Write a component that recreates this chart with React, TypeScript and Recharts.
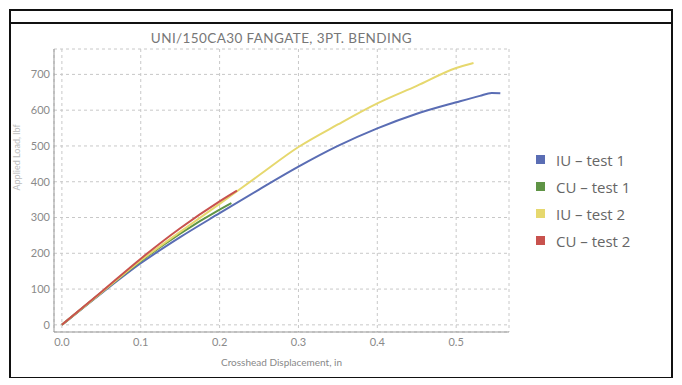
import {
  LineChart,
  Line,
  XAxis,
  YAxis,
  CartesianGrid,
  Legend,
} from "recharts";

// crosshead displacement (in) / load readings per test
const iu1X = [0, 0.05, 0.1, 0.15, 0.2, 0.25, 0.3, 0.35, 0.4, 0.45, 0.5, 0.53, 0.545, 0.556];
const iu1Y = [0, 88, 172, 245, 312, 378, 442, 500, 549, 590, 622, 640, 648, 647];

const cu1X = [0, 0.05, 0.1, 0.15, 0.2, 0.215];
const cu1Y = [0, 90, 178, 255, 322, 340];

const iu2X = [0, 0.05, 0.1, 0.15, 0.2, 0.25, 0.3, 0.35, 0.4, 0.45, 0.5, 0.522];
const iu2Y = [0, 90, 180, 260, 338, 418, 497, 560, 619, 668, 718, 732];

const cu2X = [0, 0.05, 0.1, 0.15, 0.2, 0.222];
const cu2Y = [0, 92, 185, 270, 345, 375];

const xTicks = [0, 0.1, 0.2, 0.3, 0.4, 0.5];
const yTicks = [0, 100, 200, 300, 400, 500, 600, 700];

const zip = (xs: number[], ys: number[]) => xs.map((x, i) => ({ x, y: ys[i] }));

const series = [
  { name: "IU – test 1", color: "#5a6db4", data: zip(iu1X, iu1Y) },
  { name: "CU – test 1", color: "#5f9445", data: zip(cu1X, cu1Y) },
  { name: "IU – test 2", color: "#e6d86e", data: zip(iu2X, iu2Y) },
  { name: "CU – test 2", color: "#c8524e", data: zip(cu2X, cu2Y) },
];

const font = "Lato, 'DejaVu Sans', sans-serif";
const tickStyle = { fill: "#8a8a8a", fontSize: 11, fontFamily: font };

function LegendBox() {
  return (
    <div style={{ fontFamily: "'Open Sans', sans-serif", fontSize: 15, color: "#666" }}>
      {series.map((s) => (
        <div key={s.name} style={{ display: "flex", alignItems: "center", height: 27 }}>
          <span style={{ width: 9, height: 9, background: s.color, marginRight: 11 }} />
          {s.name}
        </div>
      ))}
    </div>
  );
}

export default function App() {
  return (
    <div style={{ position: "relative", width: 666, height: 370 }}>
      <div
        style={{
          position: "absolute",
          left: 1,
          top: 1,
          width: 660,
          height: 366,
          border: "2px solid #111",
        }}
      />
      <div style={{ position: "absolute", left: 1, top: 14, width: 664, height: 2, background: "#111" }} />
      <div
        style={{
          position: "absolute",
          left: 46,
          top: 22,
          width: 455,
          textAlign: "center",
          fontFamily: font,
          fontSize: 13.5,
          letterSpacing: 0.4,
          color: "#777",
        }}
      >
        UNI/150CA30 FANGATE, 3PT. BENDING
      </div>
      <LineChart
        width={666}
        height={369}
        margin={{ top: 41, right: 165, bottom: 11, left: 0 }}
        style={{ position: "absolute", left: 0, top: 0 }}
      >
        <CartesianGrid stroke="#c8c8c8" strokeDasharray="3 3" />
        <XAxis
          xAxisId={0}
          dataKey="x"
          type="number"
          domain={[-0.01, 0.567]}
          ticks={xTicks}
          allowDataOverflow
          tickFormatter={(v: number) => v.toFixed(1)}
          tick={tickStyle}
          tickSize={0}
          tickMargin={6}
          height={34}
          stroke="#999"
          label={{ value: "Crosshead Displacement, in", position: "insideBottom", offset: 0, fill: "#888", fontSize: 10, fontFamily: font }}
        />
        <XAxis xAxisId="top" orientation="top" type="number" height={0} tick={false} stroke="#999" />
        <YAxis
          yAxisId={0}
          type="number"
          domain={[-20, 771]}
          ticks={yTicks}
          allowDataOverflow
          tick={tickStyle}
          tickSize={0}
          tickMargin={4}
          width={46}
          stroke="#999"
          label={{ value: "Applied Load, lbf", angle: -90, position: "insideLeft", offset: 9, fill: "#bbb", fontSize: 9, fontFamily: font }}
        />
        <YAxis yAxisId="right" orientation="right" width={0} tick={false} stroke="#999" />
        {series.map((s) => (
          <Line
            key={s.name}
            data={s.data}
            dataKey="y"
            name={s.name}
            xAxisId={0}
            yAxisId={0}
            type="monotone"
            stroke={s.color}
            strokeWidth={2}
            dot={false}
            isAnimationActive={false}
          />
        ))}
        <Legend
          layout="vertical"
          align="center"
          verticalAlign="middle"
          content={() => <LegendBox />}
          wrapperStyle={{ left: 528, top: 138, width: 130 }}
        />
      </LineChart>
    </div>
  );
}
